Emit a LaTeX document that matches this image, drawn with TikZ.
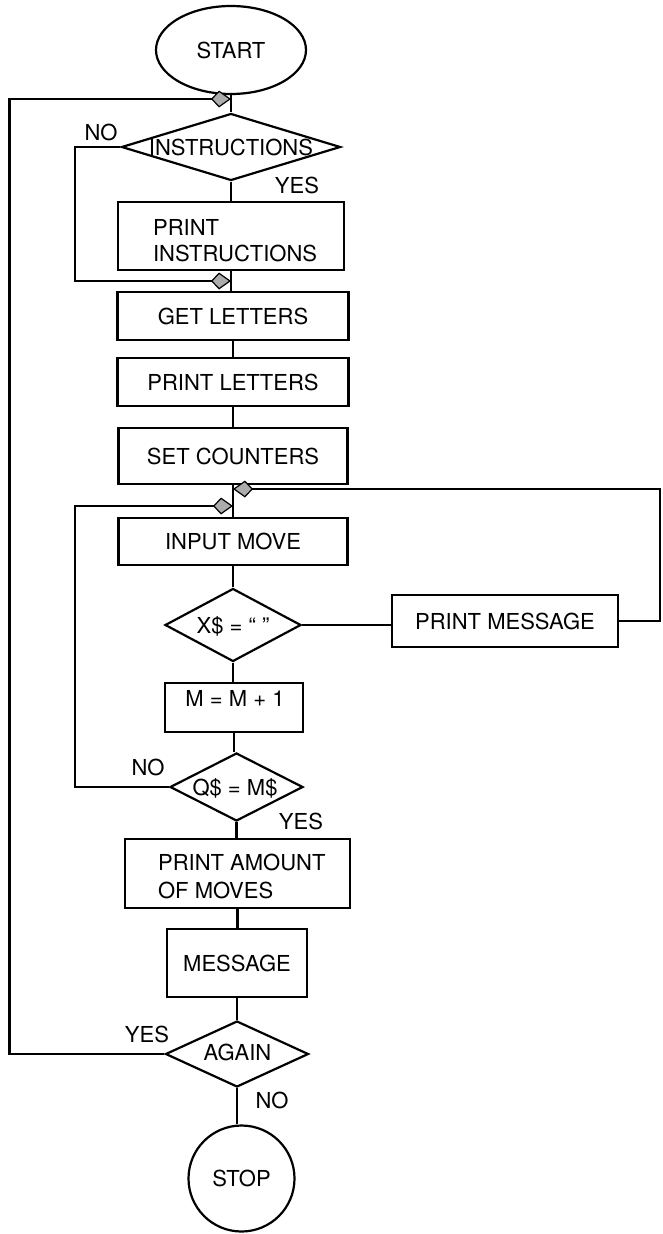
\documentclass[tikz,border=0pt]{standalone}
\usepackage{fontspec}
\setmainfont{TeX Gyre Heros}
\usetikzlibrary{shapes.geometric,arrows.meta}
\begin{document}
\begin{tikzpicture}[x=1pt,y=-1pt,line width=2.2pt,
  every node/.style={font=\fontsize{22}{26}\selectfont},
  box/.style={draw,rectangle,inner sep=0pt,text height=16pt,text depth=0pt},
  dia/.style={draw,diamond,inner sep=0pt},
  term/.style={draw,ellipse,inner sep=0pt},
  txt/.style={inner sep=0pt,text height=16pt,text depth=0pt},
  lbl/.style={inner sep=0pt,anchor=base},
  flow/.style={-{Kite[length=20pt 0,width=17pt 0,inset=8pt 0,line width=1.2pt,fill=gray!65]}},
]
\useasboundingbox (0,0) rectangle (662,1234);

% terminals, decisions and process boxes
\node[term,minimum width=150pt,minimum height=88pt] (start) at (231,50) {START};
\coordinate (j1) at (231,99);
\node[dia,minimum width=219pt,minimum height=67pt] (instr) at (231,147) {};
\node[txt] (instrtxt) at (231,147) {INSTRUCTIONS};
\node[box,minimum width=226pt,minimum height=68pt] (pins) at (231,236) {};
\node[align=left,anchor=north west,inner sep=0pt] (pinstxt) at (152,218) {PRINT\\INSTRUCTIONS};
\coordinate (j2) at (231,281);
\node[box,minimum width=231pt,minimum height=48pt] (getl) at (233,316) {GET LETTERS};
\node[box,minimum width=231pt,minimum height=48pt] (prl) at (233,382) {PRINT LETTERS};
\node[box,minimum width=229pt,minimum height=56pt] (setc) at (233,456) {SET COUNTERS};
\coordinate (j3) at (233,489);
\coordinate (j4) at (233,506);
\node[box,minimum width=229pt,minimum height=47pt] (inp) at (233,541.5) {INPUT MOVE};
\node[dia,minimum width=136pt,minimum height=73pt] (xq) at (233,625) {};
\node[txt] (xqtxt) at (233,625) {X\$ = “ ”};
\node[box,minimum width=226pt,minimum height=52pt] (pmsg) at (505,621) {PRINT MESSAGE};
\node[box,minimum width=138pt,minimum height=49pt] (inc) at (234,707.5) {};
\node[txt] (inctxt) at (235,698.5) {M = M + 1};
\node[dia,minimum width=133pt,minimum height=68pt] (qm) at (236.5,787) {};
\node[txt] (qmtxt) at (235,787) {Q\$ = M\$};
\node[box,minimum width=225pt,minimum height=69pt] (pam) at (237.5,873.5) {};
\node[align=left,anchor=north west,inner sep=0pt,font=\fontsize{22}{28}\selectfont] (pamtxt) at (157,853) {PRINT AMOUNT\\OF MOVES};
\node[box,minimum width=140pt,minimum height=68pt] (msg) at (237,963) {MESSAGE};
\node[dia,minimum width=143pt,minimum height=66pt] (again) at (237,1054) {};
\node[txt] (againtxt) at (237.5,1052.5) {AGAIN};
\node[draw,circle,minimum size=106pt,inner sep=0pt] (stop) at (241.5,1178.5) {STOP};

% main vertical flow
\draw (start.south) -- (start.south |- instr.north);
\draw (instr.south) -- (instr.south |- pins.north);
\draw (pins.south) -- (pins.south |- getl.north);
\draw (getl.south) -- (getl.south |- prl.north);
\draw (prl.south) -- (prl.south |- setc.north);
\draw (setc.south) -- (setc.south |- inp.north);
\draw (inp.south) -- (inp.south |- xq.north);
\draw (xq.south) -- (xq.south |- inc.north);
\draw (inc.south) -- (inc.south |- qm.north);
\draw (qm.south) -- (qm.south |- pam.north);
\draw (pam.south) -- (pam.south |- msg.north);
\draw (msg.south) -- (msg.south |- again.north);
\draw (again.south) -- (again.south |- stop.north);
\draw (xq.east) -- (xq.east -| pmsg.west);

% loops back into the main flow
\draw[flow] (again.west) -- ++(-155,0) |- (j1);
\draw[flow] (instr.west) -- ++(-45.5,0) |- (j2);
\draw[flow] (pmsg.east) -- ++(41,0) |- (j3);
\draw[flow] (qm.west) -- ++(-94,0) |- (j4);

% branch labels
\node[lbl] (no1) at (101,140) {NO};
\node[lbl] (yes1) at (297,193) {YES};
\node[lbl] (no2) at (148,775) {NO};
\node[lbl] (yes2) at (301,829) {YES};
\node[lbl] (yes3) at (147,1042) {YES};
\node[lbl] (no3) at (272,1108) {NO};
\end{tikzpicture}
\end{document}
